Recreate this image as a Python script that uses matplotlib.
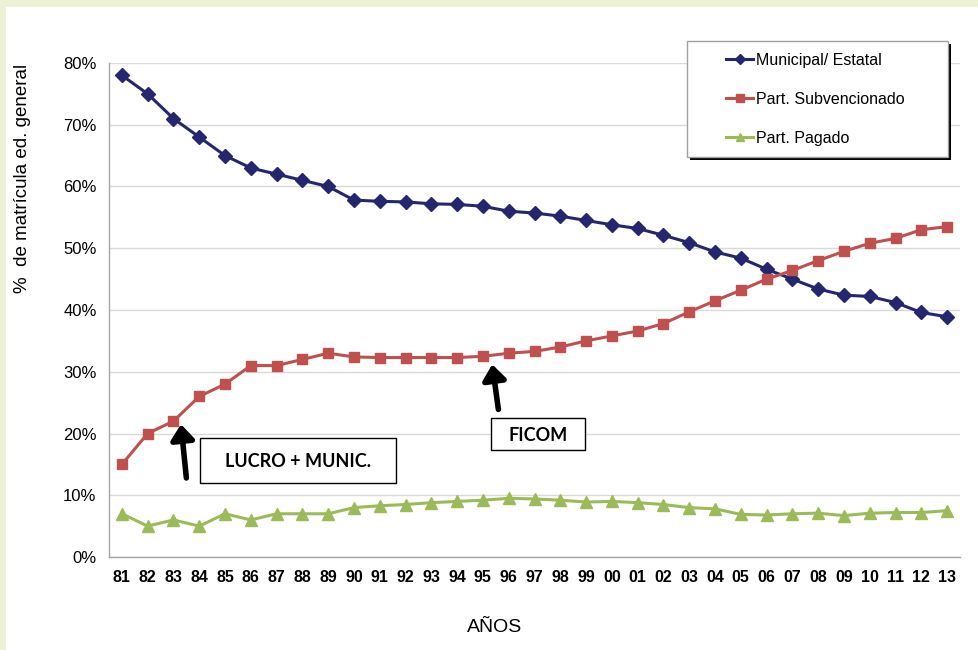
import matplotlib
matplotlib.use("Agg")
import matplotlib.pyplot as plt
from matplotlib.patches import Rectangle, FancyArrowPatch
from matplotlib.ticker import FuncFormatter

# Matrícula por dependencia, 1981-2013 (% de la matrícula de educación general)
years = ["81", "82", "83", "84", "85", "86", "87", "88", "89", "90", "91",
         "92", "93", "94", "95", "96", "97", "98", "99", "00", "01", "02",
         "03", "04", "05", "06", "07", "08", "09", "10", "11", "12", "13"]
municipal = [78.0, 75.0, 71.0, 68.0, 65.0, 63.0, 62.0, 61.0, 60.0, 57.8, 57.6,
             57.5, 57.2, 57.1, 56.8, 56.0, 55.7, 55.2, 54.5, 53.8, 53.2, 52.1,
             50.9, 49.4, 48.4, 46.6, 45.0, 43.4, 42.4, 42.2, 41.2, 39.6, 38.9]
subvencionado = [15.0, 20.0, 22.0, 26.0, 28.0, 31.0, 31.0, 32.0, 33.0, 32.4, 32.3,
                 32.3, 32.3, 32.3, 32.5, 33.0, 33.3, 34.0, 35.0, 35.8, 36.6, 37.8,
                 39.7, 41.5, 43.2, 45.0, 46.4, 48.0, 49.5, 50.8, 51.6, 53.0, 53.5]
pagado = [7.0, 5.0, 6.0, 5.0, 7.0, 6.0, 7.0, 7.0, 7.0, 8.0, 8.3,
          8.5, 8.8, 9.0, 9.2, 9.5, 9.4, 9.2, 8.9, 9.0, 8.8, 8.5,
          8.0, 7.8, 6.9, 6.8, 7.0, 7.1, 6.7, 7.1, 7.2, 7.2, 7.5]
series_names = ["Municipal/ Estatal", "Part. Subvencionado", "Part. Pagado"]
events = ["LUCRO + MUNIC.", "FICOM"]

plt.rcParams["font.family"] = ["Liberation Sans", "DejaVu Sans"]

W, H = 979, 650
fig = plt.figure(figsize=(W / 100, H / 100), dpi=100)
fig.patch.set_facecolor("#EDF2D6")
# white panel inside the light frame
fig.patches.append(Rectangle((6 / W, 0), 1 - 6 / W, 1 - 7 / H,
                             transform=fig.transFigure, facecolor="white",
                             edgecolor="none", zorder=-10))


def fpx(px, py):
    """figure pixel position (from top-left) -> figure fraction"""
    return px / W, 1 - py / H


ax = fig.add_axes([109 / W, (H - 557) / H, (960 - 109) / W, (557 - 63) / H])
ax.set_facecolor("white")
x = list(range(len(years)))

ax.plot(x, municipal, color="#24266F", lw=2.2, marker="D", ms=7,
        label=series_names[0], zorder=4)
ax.plot(x, subvencionado, color="#C0504D", lw=2.2, marker="s", ms=7.5,
        label=series_names[1], zorder=4)
ax.plot(x, pagado, color="#9BBB59", lw=2.2, marker="^", ms=8.5,
        label=series_names[2], zorder=4)

ax.set_xlim(-0.5, len(years) - 0.5)
ax.set_ylim(0, 80)
ax.set_yticks(range(0, 81, 10))
ax.yaxis.set_major_formatter(FuncFormatter(lambda v, p: f"{int(v)}%"))
ax.set_xticks(x)
ax.set_xticklabels(years, fontweight="bold", fontsize=11.5)
ax.tick_params(axis="y", labelsize=12, length=0, pad=9)
ax.tick_params(axis="x", length=0, pad=9)
ax.grid(axis="y", color="#D9D9D9", lw=1)
ax.set_axisbelow(True)
for s in ("top", "right"):
    ax.spines[s].set_visible(False)
for s in ("left", "bottom"):
    ax.spines[s].set_color("#A6A6A6")
    ax.spines[s].set_linewidth(1)

ax.set_xlabel("AÑOS", fontsize=14, va="center")
ax.xaxis.set_label_coords((495 - 109) / 851, -(627 - 557) / 494)
ax.set_ylabel("%  de matrícula ed. general", fontsize=13.5, va="center")
ax.yaxis.set_label_coords((22 - 109) / 851, (557 - 178) / 494)

# event annotations: framed labels with thick arrows
ann_font = ["Lato", "DejaVu Sans"]
label_boxes = [((3.03, 11.98), (10.63, 19.27)), ((14.31, 17.33), (17.96, 22.51))]
for text, ((x0, y0), (x1, y1)) in zip(events, label_boxes):
    ax.add_patch(Rectangle((x0, y0), x1 - x0, y1 - y0, facecolor="white",
                           edgecolor="black", lw=1, zorder=5))
    ax.text((x0 + x1) / 2, (y0 + y1) / 2 - 0.2, text, ha="center", va="center",
            fontsize=13, fontweight="bold", family=ann_font, zorder=6)

for tail, head in [((2.5, 12.8), (2.29, 21.5)), ((14.6, 23.9), (14.36, 31.2))]:
    ax.add_patch(FancyArrowPatch(tail, head,
                                 arrowstyle="-|>,head_length=9,head_width=7",
                                 mutation_scale=1, lw=4, color="black",
                                 shrinkA=0, shrinkB=0, zorder=6))

# legend: framed box with a solid drop shadow
lx0, ly0 = fpx(687, 157)
lx1, ly1 = fpx(948, 41)
ax.add_patch(Rectangle((lx0 + 3 / W, ly0 - 3 / H), lx1 - lx0, ly1 - ly0,
                       transform=fig.transFigure, facecolor="black",
                       edgecolor="none", zorder=7, clip_on=False))
ax.add_patch(Rectangle((lx0, ly0), lx1 - lx0, ly1 - ly0,
                       transform=fig.transFigure, facecolor="white",
                       edgecolor="#A0A0A0", lw=1, zorder=7.5, clip_on=False))
leg = ax.legend(loc="upper left", bbox_to_anchor=fpx(726, 53),
                bbox_transform=fig.transFigure, fontsize=11.5, frameon=False,
                handlelength=1.7, handletextpad=0.15, labelspacing=1.5,
                borderpad=0, borderaxespad=0)
leg.set_zorder(8)
for h in leg.legend_handles:
    h.set_markersize(5.5)

fig.savefig("out.png", dpi=100, facecolor=fig.get_facecolor())
